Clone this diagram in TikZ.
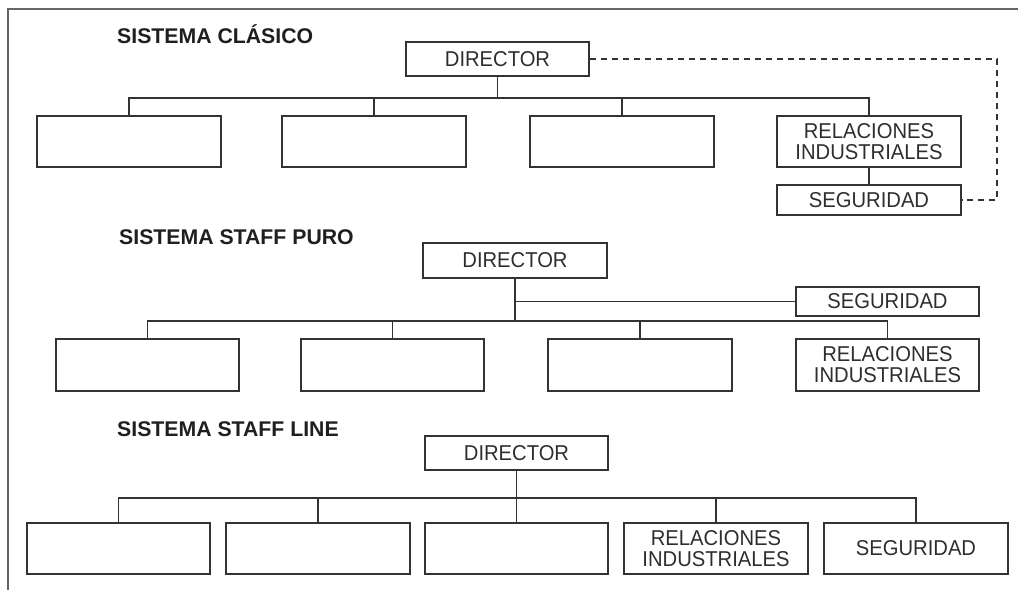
\documentclass[tikz,border=0pt]{standalone}
\usepackage{fontspec}
\setmainfont{Liberation Sans}
\newfontfamily\boxfont[FakeStretch=0.94]{Liberation Sans}
\begin{document}
\begin{tikzpicture}[x=1pt,y=-1pt,
  ink/.style={draw=black!80, line width=1.6pt},
  box/.style={ink, rectangle, inner sep=0pt, align=center,
    minimum width=184pt, minimum height=51pt, text=black!82,
    font=\boxfont\fontsize{21.5}{21}\selectfont},
  headbox/.style={box, minimum height=34pt},
  smallbox/.style={box, minimum height=30pt},
  title/.style={anchor=base west, inner sep=0pt, text=black!88,
    font=\bfseries\fontsize{21.25}{24}\selectfont},
  link/.style={ink},
  staffdash/.style={ink, line width=1.3pt, dash pattern=on 6pt off 5pt},
  frame/.style={draw=black!60, line width=2pt}
]
\useasboundingbox (0,0) rectangle (1018,590);

% page frame (left and top rules)
\coordinate (fbl) at (8,590);
\coordinate (ftl) at (8,9);
\coordinate (ftr) at (1018,9);
\draw[frame] (fbl) -- (ftl) -- (ftr);

% ---------------- Sistema clasico ----------------
\node[title] (t1) at (117,43) {SISTEMA CLÁSICO};
\node[headbox, minimum width=183pt] (d1) at (497.5,59) {DIRECTOR};
\node[box] (a1) at (129,141.5) {};
\node[box] (b1) at (374,141.5) {};
\node[box] (c1) at (622,141.5) {};
\node[box] (r1) at (869,141.5) {RELACIONES\\INDUSTRIALES};
\node[smallbox] (s1) at (869,200) {SEGURIDAD};
\coordinate (j1) at (497.5,98);
\draw[link] (d1.south) -- (j1);
\draw[link] (a1.north) -- (a1.north |- j1) -- (r1.north |- j1) -- (r1.north);
\draw[link] (b1.north) -- (b1.north |- j1);
\draw[link] (c1.north) -- (c1.north |- j1);
\draw[link] (r1.south) -- (s1.north);
\coordinate (k1) at (997,59);
\draw[staffdash] (d1.east) -- (k1) -- (k1 |- s1.east) -- (s1.east);

% ---------------- Sistema staff puro ----------------
\node[title] (t2) at (119,244) {SISTEMA STAFF PURO};
\node[headbox, minimum height=35pt] (d2) at (515,260.5) {DIRECTOR};
\node[smallbox, minimum width=183pt, minimum height=29pt] (s2) at (887.5,301.5) {SEGURIDAD};
\node[box, minimum height=52pt, minimum width=183pt] (a2) at (147.5,365) {};
\node[box, minimum height=52pt, minimum width=183pt] (b2) at (392.5,365) {};
\node[box, minimum height=52pt] (c2) at (640,365) {};
\node[box, minimum height=52pt, minimum width=183pt] (r2) at (887.5,365) {RELACIONES\\INDUSTRIALES};
\coordinate (j2) at (515,321);
\draw[link] (d2.south) -- (j2);
\draw[link] (d2.south |- s2.west) -- (s2.west);
\draw[link] (a2.north) -- (a2.north |- j2) -- (r2.north |- j2) -- (r2.north);
\draw[link] (b2.north) -- (b2.north |- j2);
\draw[link] (c2.north) -- (c2.north |- j2);

% ---------------- Sistema staff line ----------------
\node[title] (t3) at (117,436) {SISTEMA STAFF LINE};
\node[headbox, minimum width=183pt] (d3) at (516.5,453) {DIRECTOR};
\node[box, minimum width=183pt] (a3) at (118.5,548.5) {};
\node[box] (b3) at (318,548.5) {};
\node[box, minimum width=183pt] (c3) at (516.5,548.5) {};
\node[box] (r3) at (716,548.5) {RELACIONES\\INDUSTRIALES};
\node[box] (s3) at (916,548.5) {SEGURIDAD};
\coordinate (j3) at (516.5,498);
\draw[link] (d3.south) -- (c3.north);
\draw[link] (a3.north) -- (a3.north |- j3) -- (s3.north |- j3) -- (s3.north);
\draw[link] (b3.north) -- (b3.north |- j3);
\draw[link] (r3.north) -- (r3.north |- j3);
\end{tikzpicture}
\end{document}
